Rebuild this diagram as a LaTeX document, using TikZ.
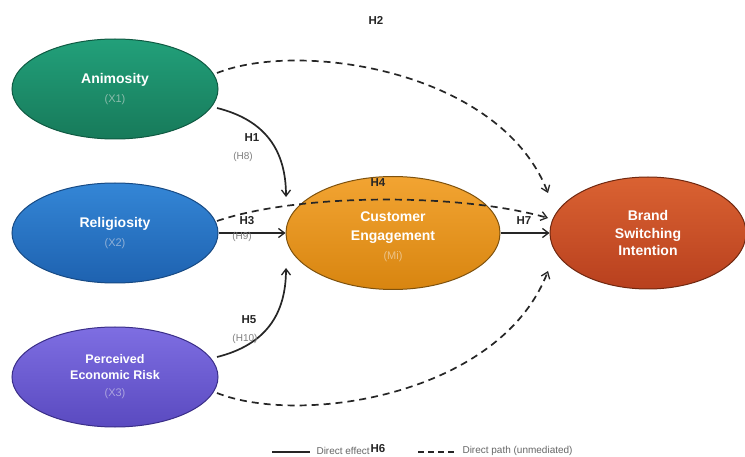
\documentclass[tikz,border=0pt]{standalone}
\usepackage{fontspec}
\setmainfont{Liberation Sans}
\usetikzlibrary{shapes.geometric,arrows.meta}
\definecolor{gA}{HTML}{22A07A}\definecolor{gB}{HTML}{177A5A}\definecolor{gD}{HTML}{0F5A42}
\definecolor{bA}{HTML}{3486D6}\definecolor{bB}{HTML}{1E62B0}\definecolor{bD}{HTML}{174A84}
\definecolor{pA}{HTML}{7E6EE2}\definecolor{pB}{HTML}{5A4AC0}\definecolor{pD}{HTML}{3A2E88}
\definecolor{oA}{HTML}{F2A432}\definecolor{oB}{HTML}{D88510}\definecolor{oD}{HTML}{7E520E}
\definecolor{rA}{HTML}{DA6232}\definecolor{rB}{HTML}{B8401E}\definecolor{rD}{HTML}{702810}
\newcommand\subtxt[2]{{\fontsize{11}{13}\selectfont\mdseries\color{white!50!#1}#2}}
\begin{document}
\begin{tikzpicture}[x=1pt,y=-1pt,
  construct/.style={ellipse,inner sep=0pt,line width=1pt,align=center,text=white,
    font=\fontsize{14}{18.5}\selectfont\bfseries},
  solidarr/.style={line width=1.7pt,draw=black!85,-{Straight Barb[length=6pt,width=9pt,line width=1.3pt]}},
  dasharr/.style={line width=1.7pt,draw=black!85,dash pattern=on 7pt off 5pt,-{Straight Barb[length=6pt,width=9pt,line width=1.3pt]}},
  hlab/.style={font=\fontsize{11.5}{13}\selectfont\bfseries,text=black!85},
  hsub/.style={font=\fontsize{10}{12}\selectfont,text=black!50},
  legtext/.style={font=\fontsize{10}{11}\selectfont,text=black!60,anchor=west}]
\useasboundingbox (0,0) rectangle (745,457);
\fill[white] (0,0) rectangle (745,457);

\node[construct,minimum width=206pt,minimum height=100pt,draw=gD,top color=gA,bottom color=gB] (anim) at (115,89)
  {Animosity\\[1pt]\subtxt{gB}{(X1)}};
\node[construct,minimum width=206pt,minimum height=100pt,draw=bD,top color=bA,bottom color=bB] (reli) at (115,233)
  {Religiosity\\[1pt]\subtxt{bB}{(X2)}};
\node[construct,minimum width=206pt,minimum height=100pt,draw=pD,top color=pA,bottom color=pB,
  font=\fontsize{12.5}{16}\selectfont\bfseries] (risk) at (115,377)
  {Perceived\\Economic Risk\\[1pt]\subtxt{pB}{(X3)}};
\node[construct,minimum width=214pt,minimum height=113pt,draw=oD,top color=oA,bottom color=oB] (ce) at (393,233)
  {\rule{0pt}{18pt}Customer\\Engagement\\[1pt]\subtxt{oB}{(Mi)}};
\node[construct,minimum width=196pt,minimum height=112pt,draw=rD,top color=rA,bottom color=rB,
  font=\fontsize{14}{17.5}\selectfont\bfseries] (bsi) at (648,233)
  {Brand\\Switching\\Intention};

\coordinate (h1end) at (286,197);
\coordinate (h5end) at (286,268);
\coordinate (h2end) at (548,193);
\coordinate (h4end) at (548,218);
\coordinate (h6end) at (548,271);
\coordinate (h2start) at (217,73);
\coordinate (h1start) at (217,108);
\coordinate (h4start) at (217,221);
\coordinate (h5start) at (217,357);
\coordinate (h6start) at (217,393);

\draw[solidarr] (h1start) .. controls (265,120) and (286,150) .. (h1end);
\draw[solidarr] (reli.east) -- (ce.west);
\draw[solidarr] (h5start) .. controls (265,345) and (286,315) .. (h5end);
\draw[solidarr] (ce.east) -- (bsi.west);
\draw[dasharr] (h2start) .. controls (300,40) and (500,70) .. (h2end);
\draw[dasharr] (h4start) .. controls (300,193) and (460,193) .. (h4end);
\draw[dasharr] (h6start) .. controls (300,426) and (500,396) .. (h6end);

\node[hlab] (lh1) at (252,138) {H1};
\node[hsub] (lh8) at (243,157) {(H8)};
\node[hlab] (lh3) at (247,221) {H3};
\node[hsub] (lh9) at (242,237) {(H9)};
\node[hlab] (lh5) at (249,320) {H5};
\node[hsub] (lh10) at (245,339) {(H10)};
\node[hlab] (lh7) at (524,221) {H7};
\node[hlab] (lh2) at (376,20) {H2};
\node[hlab] (lh4) at (378,183) {H4};
\node[hlab] (lh6) at (378,449) {H6};

\coordinate (l1a) at (272,452); \coordinate (l1b) at (310,452);
\coordinate (l2a) at (418,452); \coordinate (l2b) at (456,452);
\draw[line width=1.7pt,black!85] (l1a) -- (l1b);
\node[legtext] (lt1) at (313,451) {Direct effect};
\draw[line width=1.7pt,black!85,dash pattern=on 6pt off 4pt] (l2a) -- (l2b);
\node[legtext] (lt2) at (459,451) {Direct path (unmediated)};
\end{tikzpicture}
\end{document}
